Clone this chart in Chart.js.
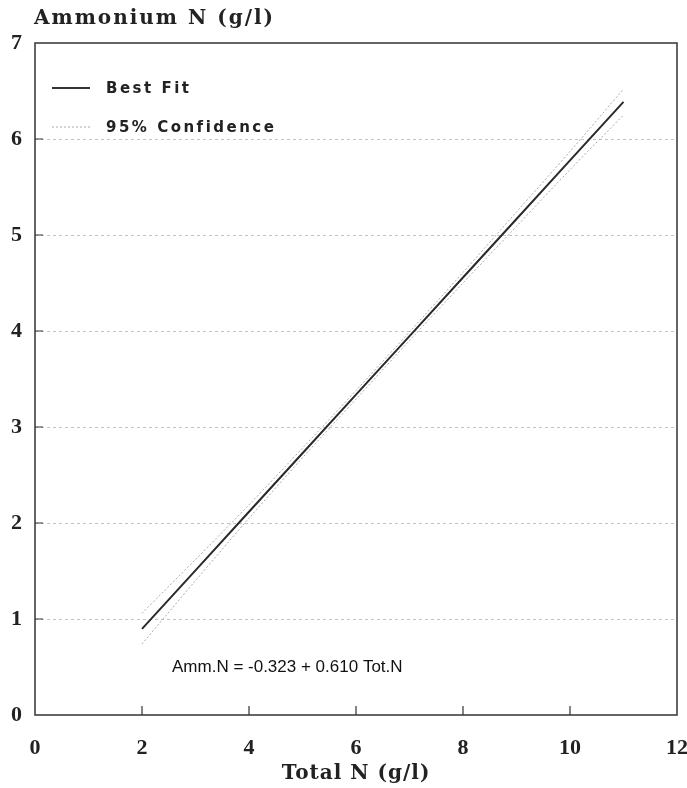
<!DOCTYPE html>
<html>
<head>
<meta charset="utf-8">
<script src="https://cdn.jsdelivr.net/npm/chart.js@4"></script>
<style>
  html, body { margin: 0; padding: 0; background: #fff; }
  #wrap { width: 687px; height: 788px; }
</style>
</head>
<body>
<div id="wrap"><canvas id="nChart"></canvas></div>
<script>
// values
const totalN = [2, 3, 4, 5, 6, 7, 8, 9, 10, 11];
const bestFit = [0.897, 1.507, 2.117, 2.727, 3.337, 3.947, 4.557, 5.167, 5.777, 6.387];
const upper95 = [1.06, 1.62, 2.19, 2.78, 3.38, 3.99, 4.61, 5.24, 5.87, 6.52];
const lower95 = [0.74, 1.40, 2.05, 2.68, 3.29, 3.90, 4.50, 5.09, 5.68, 6.25];
const xTicks = [0, 2, 4, 6, 8, 10, 12];
const yTicks = [0, 1, 2, 3, 4, 5, 6, 7];

const yTitle = 'Ammonium N (g/l)';
const xTitle = 'Total N (g/l)';
const equation = 'Amm.N = -0.323 + 0.610 Tot.N';

function pts(ys) {
    return totalN.map((x, i) => ({ x: x, y: ys[i] }));
}

const labelFont = '"DejaVu Serif", serif';
const tickFont = '"Liberation Serif", serif';

// frame, inward ticks, titles, legend and equation
const decorations = {
    id: 'decorations',
    afterDraw(chart) {
        const ctx = chart.ctx;
        const a = chart.chartArea;
        const xs = chart.scales.x;
        const ys = chart.scales.y;
        ctx.save();
        ctx.strokeStyle = '#333';
        ctx.lineWidth = 1.5;
        ctx.strokeRect(a.left, a.top, a.right - a.left, a.bottom - a.top);

        ctx.lineWidth = 1.2;
        ctx.beginPath();
        xTicks.slice(1, -1).forEach(v => {
            const px = xs.getPixelForValue(v);
            ctx.moveTo(px, a.bottom);
            ctx.lineTo(px, a.bottom - 9);
        });
        yTicks.slice(1, -1).forEach(v => {
            const py = ys.getPixelForValue(v);
            ctx.moveTo(a.left, py);
            ctx.lineTo(a.left + 8, py);
        });
        ctx.stroke();

        ctx.fillStyle = '#222';
        ctx.textBaseline = 'middle';
        ctx.font = 'bold 20px ' + labelFont;
        ctx.textAlign = 'left';
        ctx.letterSpacing = '2px';
        ctx.fillText(yTitle, 34, 19);
        ctx.letterSpacing = '1px';
        ctx.textAlign = 'center';
        ctx.fillText(xTitle, (a.left + a.right) / 2, 774);
        ctx.letterSpacing = '0px';

        // legend
        ctx.lineWidth = 2;
        ctx.strokeStyle = '#333';
        ctx.beginPath();
        ctx.moveTo(52, 88);
        ctx.lineTo(90, 88);
        ctx.stroke();
        ctx.lineWidth = 1;
        ctx.strokeStyle = '#aaa';
        ctx.setLineDash([2, 2]);
        ctx.beginPath();
        ctx.moveTo(52, 127);
        ctx.lineTo(90, 127);
        ctx.stroke();
        ctx.setLineDash([]);
        ctx.textAlign = 'left';
        ctx.font = 'bold 15px "DejaVu Sans", sans-serif';
        ctx.letterSpacing = '2.5px';
        ctx.fillText('Best Fit', 106, 89);
        ctx.fillText('95% Confidence', 106, 128);
        ctx.letterSpacing = '0px';

        ctx.fillStyle = '#111';
        ctx.font = '17px "Liberation Sans", Arial, sans-serif';
        ctx.fillText(equation, 172, 667);
        ctx.restore();
    }
};

new Chart(document.getElementById('nChart'), {
    type: 'scatter',
    data: {
        datasets: [
            {
                label: 'Best Fit',
                data: pts(bestFit),
                showLine: true,
                borderColor: '#2a2a2a',
                borderWidth: 2,
                pointRadius: 0,
                tension: 0
            },
            {
                label: '95% Confidence',
                data: pts(upper95),
                showLine: true,
                borderColor: '#aaa',
                borderWidth: 1,
                borderDash: [2, 2],
                pointRadius: 0,
                tension: 0.3
            },
            {
                label: '95% Confidence (lower)',
                data: pts(lower95),
                showLine: true,
                borderColor: '#aaa',
                borderWidth: 1,
                borderDash: [2, 2],
                pointRadius: 0,
                tension: 0.3
            }
        ]
    },
    options: {
        responsive: true,
        maintainAspectRatio: false,
        animation: false,
        layout: { padding: { top: 43, right: 10, left: 0, bottom: 0 } },
        plugins: {
            legend: { display: false },
            tooltip: { enabled: false }
        },
        scales: {
            x: {
                type: 'linear',
                min: 0,
                max: 12,
                afterBuildTicks: s => { s.ticks = xTicks.map(v => ({ value: v })); },
                afterFit: s => { s.height = 73; s.paddingRight = 0; s.paddingLeft = 0; },
                grid: { display: false },
                border: { display: false },
                ticks: {
                    color: '#222',
                    padding: 12,
                    font: { family: tickFont, size: 22, weight: 'bold' }
                }
            },
            y: {
                min: 0,
                max: 7,
                afterBuildTicks: s => { s.ticks = yTicks.map(v => ({ value: v })); },
                afterFit: s => { s.width = 35; s.paddingTop = 0; s.paddingBottom = 0; },
                grid: {
                    drawTicks: false,
                    color: ctx => (ctx.tick.value === 0 || ctx.tick.value === 7) ? 'rgba(0,0,0,0)' : '#c4c4c4',
                    lineWidth: 1
                },
                border: { display: false, dash: [3, 3] },
                ticks: {
                    color: '#222',
                    padding: 13,
                    font: { family: tickFont, size: 22, weight: 'bold' }
                }
            }
        }
    },
    plugins: [decorations]
});
</script>
</body>
</html>
